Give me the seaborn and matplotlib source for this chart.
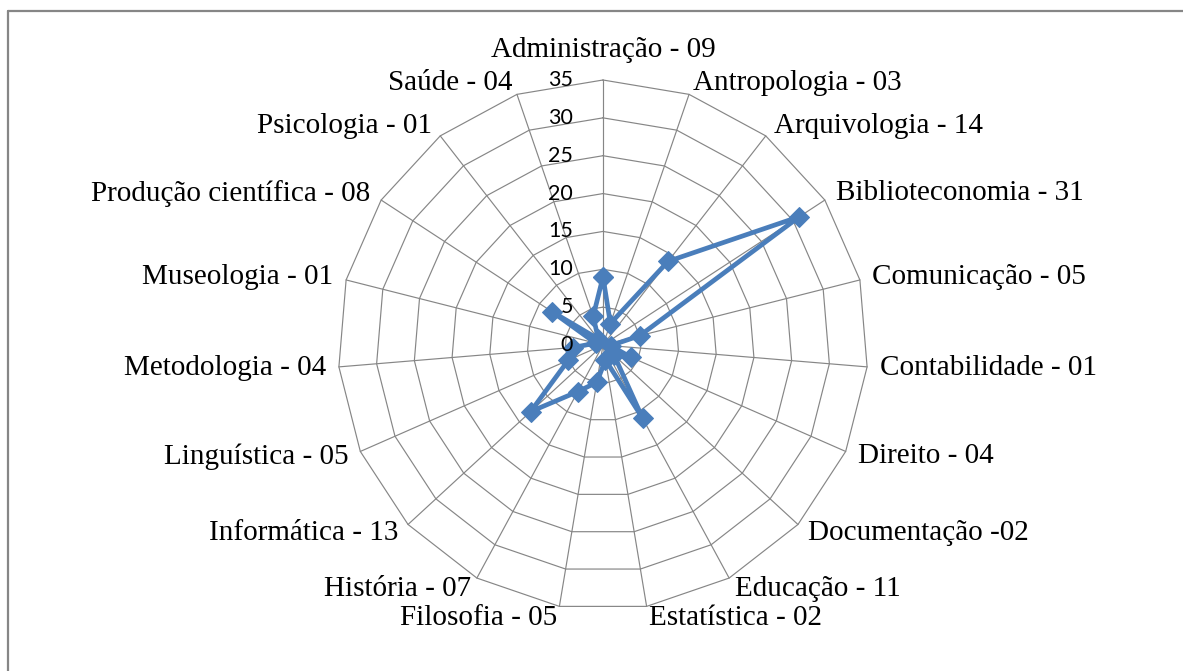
import numpy as np
import pandas as pd
import matplotlib
matplotlib.use("Agg")
import matplotlib.pyplot as plt
import seaborn as sns
from matplotlib.lines import Line2D

# ---- data ----
categories = ["Administração", "Antropologia", "Arquivologia", "Biblioteconomia",
              "Comunicação", "Contabilidade", "Direito", "Documentação", "Educação",
              "Estatística", "Filosofia", "História", "Informática", "Linguística",
              "Metodologia", "Museologia", "Produção científica", "Psicologia", "Saúde"]
values = [9, 3, 14, 31, 5, 1, 4, 2, 11, 2, 5, 7, 13, 5, 4, 1, 8, 1, 4]
labels = ["Administração - 09", "Antropologia - 03", "Arquivologia - 14",
          "Biblioteconomia - 31", "Comunicação - 05", "Contabilidade - 01",
          "Direito - 04", "Documentação -02", "Educação - 11", "Estatística - 02",
          "Filosofia - 05", "História - 07", "Informática - 13", "Linguística - 05",
          "Metodologia - 04", "Museologia - 01", "Produção científica - 08",
          "Psicologia - 01", "Saúde - 04"]
ticks = [0, 5, 10, 15, 20, 25, 30, 35]

# ---- style ----
sns.set_theme(style="white")
plt.rcParams['font.family'] = ['Liberation Serif', 'DejaVu Serif']

GRID = '#868686'
LINE = '#4A7EBB'

W, H = 1183, 671
fig = plt.figure(figsize=(W / 100, H / 100), dpi=100)
fig.patch.set_facecolor('white')

cx, cy, R = 603, 345, 265
ax = fig.add_axes([(cx - R) / W, (H - cy - R) / H, 2 * R / W, 2 * R / H],
                  projection='polar')
ax.set_theta_zero_location('N')
ax.set_theta_direction(-1)
rmax = ticks[-1]
ax.set_ylim(0, rmax)
ax.grid(False)
ax.spines['polar'].set_visible(False)
ax.set_xticks([])
ax.set_yticks([])
ax.patch.set_alpha(0)

n = len(values)
theta = np.arange(n) * 2 * np.pi / n
th_closed = np.append(theta, theta[0])

# polygon grid rings
for t in ticks[1:]:
    ax.plot(th_closed, [t] * (n + 1), color=GRID, lw=0.85, zorder=1, clip_on=False)
# spokes
for th in theta:
    ax.plot([th, th], [0, rmax], color=GRID, lw=0.85, zorder=1, clip_on=False)

# data
df = pd.DataFrame({'theta': th_closed, 'value': values + [values[0]]})
sns.lineplot(data=df, x='theta', y='value', ax=ax, sort=False, estimator=None,
             color=LINE, lw=3.4, marker='D', markersize=10.5,
             markeredgecolor=LINE, markerfacecolor=LINE, zorder=3, clip_on=False)
ax.set_xlabel('')
ax.set_ylabel('')

# radial tick labels
for t in ticks:
    ax.annotate(str(t), xy=(0, t), xytext=(-30, 0), textcoords='offset pixels',
                ha='right', va='center', fontsize=15.5, family=['Lato', 'DejaVu Sans'],
                color='black', annotation_clip=False)

# category labels
for i, (th, lab) in enumerate(zip(theta, labels)):
    s, c = np.sin(th), np.cos(th)
    if s > 0.05:
        ha = 'left'
    elif s < -0.05:
        ha = 'right'
    else:
        ha = 'center'
    dx = 13 * s
    dy = 12 * c if i != 0 else 30
    ax.annotate(lab, xy=(th, rmax), xytext=(dx, dy), textcoords='offset pixels',
                ha=ha, va='center', fontsize=21, color='black',
                annotation_clip=False)

# outer frame (left and top edges visible)
fig.add_artist(Line2D([8 / W, 8 / W], [0, 1 - 11 / H], transform=fig.transFigure,
                      color=GRID, lw=1.6))
fig.add_artist(Line2D([8 / W, 1], [1 - 11 / H, 1 - 11 / H], transform=fig.transFigure,
                      color=GRID, lw=1.6))

fig.savefig('out.png', dpi=100)
